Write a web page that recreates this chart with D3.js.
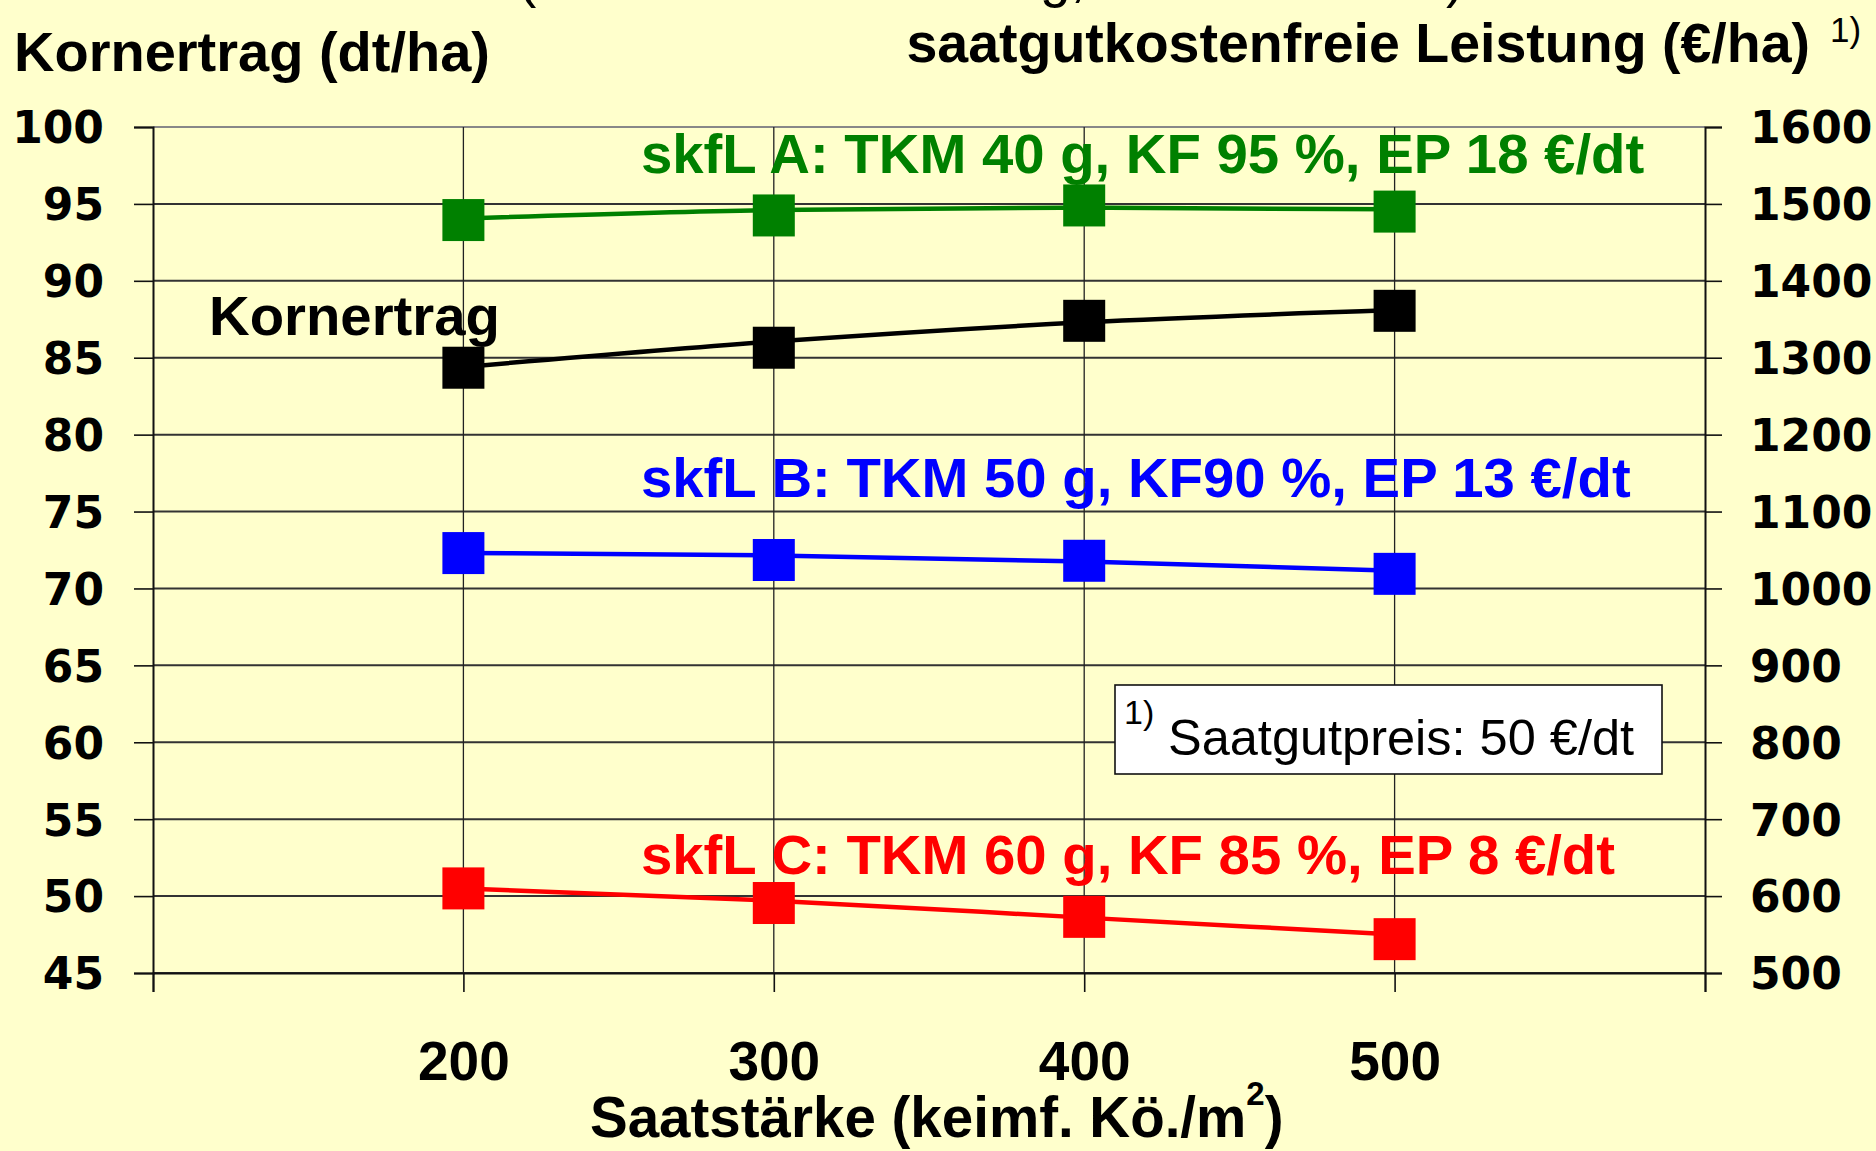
<!DOCTYPE html>
<html>
<head>
    <title>Kornertrag und saatgutkostenfreie Leistung</title>
    <script src="https://d3js.org/d3.v7.min.js"></script>
    <style>
        body { margin: 0; background: #ffffcc; }
        text { font-family: "Liberation Sans", Arial, sans-serif; font-weight: bold; }
        .ytick text { font-family: "DejaVu Sans", Verdana, sans-serif; font-weight: bold; }
    </style>
</head>
<body>
<div id="svg_container"></div>
<script>
    // data
    const seedRates = [200, 300, 400, 500];
    const xTicks = [100, 200, 300, 400, 500, 600];
    const leftTicks = [45, 50, 55, 60, 65, 70, 75, 80, 85, 90, 95, 100];
    const rightTicks = [500, 600, 700, 800, 900, 1000, 1100, 1200, 1300, 1400, 1500, 1600];

    // Kornertrag (dt/ha), left axis: markers and drawn curve
    const yieldMarkers = [84.35, 85.65, 87.4, 88.05];
    const yieldCurve = [84.4, 86.05, 87.3, 88.1];

    // saatgutkostenfreie Leistung (€/ha), right axis
    const skflAMarkers = [1479, 1485, 1498, 1490];
    const skflACurve = [1481, 1492, 1495, 1493];
    const skflBMarkers = [1046, 1037, 1036, 1019];
    const skflBCurve = [1046, 1043, 1035, 1023];
    const skflCMarkers = [610, 591, 573, 544];
    const skflCCurve = [610, 594, 572, 550];

    const width = 1876;
    const height = 1151;

    const svg = d3.select("#svg_container")
        .append("svg")
        .attr("width", width)
        .attr("height", height);

    svg.append("rect")
        .attr("width", width)
        .attr("height", height)
        .attr("fill", "#ffffcc");

    const plot_left = 153, plot_right = 1705, plot_top = 127, plot_bottom = 973;

    const x = d3.scaleLinear().domain([100, 600]).range([plot_left, plot_right]);
    const yL = d3.scaleLinear().domain([45, 100]).range([plot_bottom, plot_top]);
    const yR = d3.scaleLinear().domain([500, 1600]).range([plot_bottom, plot_top]);

    // horizontal grid
    svg.append("g").selectAll("line")
        .data(leftTicks)
        .enter()
        .append("line")
        .attr("x1", plot_left).attr("x2", plot_right)
        .attr("y1", d => yL(d)).attr("y2", d => yL(d))
        .attr("stroke", d => d === 100 ? "#888" : "#333")
        .attr("stroke-width", 2);

    // vertical grid
    svg.append("g").selectAll("line")
        .data(seedRates)
        .enter()
        .append("line")
        .attr("x1", d => x(d)).attr("x2", d => x(d))
        .attr("y1", plot_top).attr("y2", plot_bottom)
        .attr("stroke", "#222")
        .attr("stroke-width", 1.3);

    // axes
    const leftAxis = svg.append("g")
        .attr("class", "ytick")
        .attr("transform", `translate(${plot_left},0)`)
        .call(d3.axisLeft(yL).tickValues(leftTicks).tickSize(19).tickPadding(30));

    const rightAxis = svg.append("g")
        .attr("class", "ytick")
        .attr("transform", `translate(${plot_right},0)`)
        .call(d3.axisRight(yR).tickValues(rightTicks).tickSize(17).tickPadding(28)
            .tickFormat(d3.format("d")));

    const bottomAxis = svg.append("g")
        .attr("transform", `translate(0,${plot_bottom})`)
        .call(d3.axisBottom(x).tickValues(xTicks).tickSize(19)
            .tickFormat(d => seedRates.includes(d) ? d : ""));

    [leftAxis, rightAxis, bottomAxis].forEach(a => {
        a.select(".domain").attr("stroke", "#111").attr("stroke-width", 2);
        a.selectAll(".tick line").attr("stroke", "#111").attr("stroke-width", 1.6);
        a.selectAll("text").attr("fill", "black");
    });
    leftAxis.selectAll("text").style("font-size", "44px").attr("dy", "0.36em");
    rightAxis.selectAll("text").style("font-size", "44px").attr("dy", "0.36em");
    bottomAxis.selectAll("text")
        .style("font-size", "55px")
        .attr("y", 1080 - plot_bottom)
        .attr("dy", 0);

    // series
    const series = [
        { markers: yieldMarkers, curve: yieldCurve, scale: yL, color: "#000000" },
        { markers: skflAMarkers, curve: skflACurve, scale: yR, color: "#008000" },
        { markers: skflBMarkers, curve: skflBCurve, scale: yR, color: "#0000ff" },
        { markers: skflCMarkers, curve: skflCCurve, scale: yR, color: "#ff0000" }
    ];

    const markerSize = 42;

    series.forEach(s => {
        const line = d3.line()
            .x((d, i) => x(seedRates[i]))
            .y(d => s.scale(d))
            .curve(d3.curveMonotoneX);

        svg.append("path")
            .attr("d", line(s.curve))
            .attr("fill", "none")
            .attr("stroke", s.color)
            .attr("stroke-width", 4.5);

        svg.append("g").selectAll("rect")
            .data(s.markers)
            .enter()
            .append("rect")
            .attr("x", (d, i) => x(seedRates[i]) - markerSize / 2)
            .attr("y", d => s.scale(d) - markerSize / 2)
            .attr("width", markerSize)
            .attr("height", markerSize)
            .attr("fill", s.color);
    });

    // series labels
    const labels = [
        { text: "skfL A: TKM 40 g, KF 95 %, EP 18 €/dt", x: 641, y: 173, color: "#008000" },
        { text: "Kornertrag", x: 209, y: 335, color: "#000000" },
        { text: "skfL B: TKM 50 g, KF90 %, EP 13 €/dt", x: 641, y: 497, color: "#0000ff" },
        { text: "skfL C: TKM 60 g, KF 85 %, EP 8 €/dt", x: 641, y: 874, color: "#ff0000" }
    ];

    svg.append("g").selectAll("text")
        .data(labels)
        .enter()
        .append("text")
        .attr("x", d => d.x)
        .attr("y", d => d.y)
        .attr("fill", d => d.color)
        .style("font-size", "56.3px")
        .text(d => d.text);

    // axis titles
    svg.append("text")
        .attr("x", 14)
        .attr("y", 71)
        .style("font-size", "56px")
        .text("Kornertrag (dt/ha)");

    svg.append("text")
        .attr("x", 1810)
        .attr("y", 62)
        .attr("text-anchor", "end")
        .style("font-size", "55.5px")
        .text("saatgutkostenfreie Leistung (€/ha)");

    svg.append("text")
        .attr("x", 1830)
        .attr("y", 42)
        .style("font-size", "35px")
        .style("font-weight", "normal")
        .text("1)");

    const xTitle = svg.append("text")
        .attr("x", 590)
        .attr("y", 1137)
        .style("font-size", "56.5px");
    xTitle.append("tspan").text("Saatstärke (keimf. Kö./m");
    xTitle.append("tspan").attr("dy", -32).style("font-size", "33px").text("2");
    xTitle.append("tspan").attr("dy", 32).text(")");

    // cut-off line at the very top
    [["(", 518], ["g,", 1040], [")", 1446]].forEach(p => {
        svg.append("text")
            .attr("x", p[1])
            .attr("y", -4)
            .style("font-size", "55px")
            .style("font-weight", "normal")
            .text(p[0]);
    });

    // footnote box
    svg.append("rect")
        .attr("x", 1115)
        .attr("y", 685)
        .attr("width", 547)
        .attr("height", 89)
        .attr("fill", "white")
        .attr("stroke", "#111")
        .attr("stroke-width", 1.6);

    svg.append("text")
        .attr("x", 1124)
        .attr("y", 724)
        .style("font-size", "34px")
        .style("font-weight", "normal")
        .text("1)");

    svg.append("text")
        .attr("x", 1168)
        .attr("y", 755)
        .style("font-size", "50.5px")
        .style("font-weight", "normal")
        .text("Saatgutpreis: 50 €/dt");
</script>
</body>
</html>
